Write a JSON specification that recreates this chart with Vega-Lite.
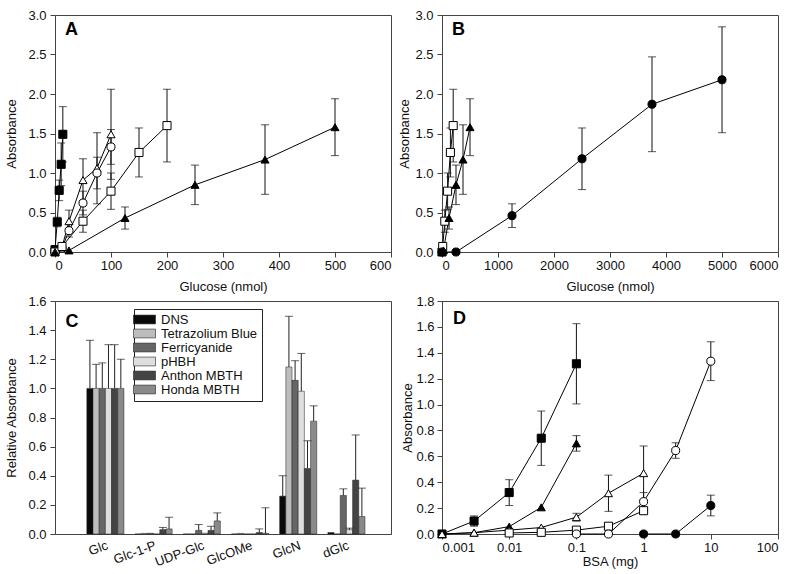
{
  "$schema": "https://vega.github.io/schema/vega-lite/v6.json",
  "padding": {"left": 5, "top": 8, "right": 5, "bottom": 5},
  "background": "white",
  "columns": 2,
  "spacing": {"row": 49, "column": 51},
  "bounds": "flush",
  "config": {
    "font": "Arial",
    "view": {"stroke": "#444", "strokeWidth": 1},
    "axis": {
      "labelFont": "Arial", "titleFont": "Arial",
      "labelFontSize": 13, "titleFontSize": 13, "titleFontWeight": "normal",
      "labelColor": "#111", "titleColor": "#111",
      "domainColor": "#444", "tickColor": "#444", "tickSize": 5,
      "grid": false, "labelPadding": 3
    },
    "legend": {"labelFont": "Arial"},
    "text": {"font": "Arial"}
  },
  "datasets": {
    "A": [
      {"series": "FS", "x": 0, "y": 0.03},
      {"series": "FS", "x": 4, "y": 0.38, "err": 0.06},
      {"series": "FS", "x": 7.5, "y": 0.78, "err": 0.13},
      {"series": "FS", "x": 11, "y": 1.11, "err": 0.27},
      {"series": "FS", "x": 14, "y": 1.49, "err": 0.35},
      {"series": "OT", "x": 0, "y": 0.02},
      {"series": "OT", "x": 12.5, "y": 0.06},
      {"series": "OT", "x": 25, "y": 0.39, "err": 0.14},
      {"series": "OT", "x": 50, "y": 0.91, "err": 0.27},
      {"series": "OT", "x": 75, "y": 1.06, "err": 0.45},
      {"series": "OT", "x": 100, "y": 1.49, "err": 0.57},
      {"series": "OC", "x": 0, "y": 0.01},
      {"series": "OC", "x": 12.5, "y": 0.05},
      {"series": "OC", "x": 25, "y": 0.27, "err": 0.08},
      {"series": "OC", "x": 50, "y": 0.62, "err": 0.15},
      {"series": "OC", "x": 75, "y": 1.0, "err": 0.2},
      {"series": "OC", "x": 100, "y": 1.33, "err": 0.22},
      {"series": "OS", "x": 0, "y": 0.0},
      {"series": "OS", "x": 12.5, "y": 0.07},
      {"series": "OS", "x": 50, "y": 0.39, "err": 0.14},
      {"series": "OS", "x": 100, "y": 0.77, "err": 0.23},
      {"series": "OS", "x": 150, "y": 1.26, "err": 0.31},
      {"series": "OS", "x": 200, "y": 1.6, "err": 0.46},
      {"series": "FT", "x": 0, "y": 0.0},
      {"series": "FT", "x": 25, "y": 0.02},
      {"series": "FT", "x": 125, "y": 0.43, "err": 0.14},
      {"series": "FT", "x": 250, "y": 0.85, "err": 0.25},
      {"series": "FT", "x": 375, "y": 1.17, "err": 0.44},
      {"series": "FT", "x": 500, "y": 1.58, "err": 0.36}
    ],
    "B": [
      {"series": "OS", "x": 0, "y": 0.0},
      {"series": "OS", "x": 12.5, "y": 0.07},
      {"series": "OS", "x": 50, "y": 0.39, "err": 0.14},
      {"series": "OS", "x": 100, "y": 0.77, "err": 0.23},
      {"series": "OS", "x": 150, "y": 1.26, "err": 0.31},
      {"series": "OS", "x": 200, "y": 1.6, "err": 0.46},
      {"series": "FT", "x": 0, "y": 0.0},
      {"series": "FT", "x": 25, "y": 0.02},
      {"series": "FT", "x": 125, "y": 0.43, "err": 0.14},
      {"series": "FT", "x": 250, "y": 0.85, "err": 0.25},
      {"series": "FT", "x": 375, "y": 1.17, "err": 0.44},
      {"series": "FT", "x": 500, "y": 1.58, "err": 0.36},
      {"series": "FC", "x": 0, "y": 0.0},
      {"series": "FC", "x": 250, "y": 0.0},
      {"series": "FC", "x": 1250, "y": 0.46, "err": 0.15},
      {"series": "FC", "x": 2500, "y": 1.18, "err": 0.39},
      {"series": "FC", "x": 3750, "y": 1.87, "err": 0.6},
      {"series": "FC", "x": 5000, "y": 2.18, "err": 0.67}
    ],
    "C": [
      {"sugar": "Glc", "method": "DNS", "v": 1.0, "hi": 1.33},
      {"sugar": "Glc", "method": "Tetrazolium Blue", "v": 1.0, "hi": 1.165},
      {"sugar": "Glc", "method": "Ferricyanide", "v": 1.0, "hi": 1.175},
      {"sugar": "Glc", "method": "pHBH", "v": 1.0, "hi": 1.3},
      {"sugar": "Glc", "method": "Anthon MBTH", "v": 1.0, "hi": 1.3},
      {"sugar": "Glc", "method": "Honda MBTH", "v": 1.0, "hi": 1.2},
      {"sugar": "Glc-1-P", "method": "DNS", "v": 0.0, "hi": null},
      {"sugar": "Glc-1-P", "method": "Tetrazolium Blue", "v": 0.004, "hi": null},
      {"sugar": "Glc-1-P", "method": "Ferricyanide", "v": 0.005, "hi": null},
      {"sugar": "Glc-1-P", "method": "pHBH", "v": 0.0, "hi": null},
      {"sugar": "Glc-1-P", "method": "Anthon MBTH", "v": 0.03, "hi": 0.045},
      {"sugar": "Glc-1-P", "method": "Honda MBTH", "v": 0.035, "hi": 0.115},
      {"sugar": "UDP-Glc", "method": "DNS", "v": 0.0, "hi": null},
      {"sugar": "UDP-Glc", "method": "Tetrazolium Blue", "v": 0.0, "hi": null},
      {"sugar": "UDP-Glc", "method": "Ferricyanide", "v": 0.025, "hi": 0.065},
      {"sugar": "UDP-Glc", "method": "pHBH", "v": 0.005, "hi": null},
      {"sugar": "UDP-Glc", "method": "Anthon MBTH", "v": 0.025, "hi": 0.053},
      {"sugar": "UDP-Glc", "method": "Honda MBTH", "v": 0.09, "hi": 0.145},
      {"sugar": "GlcOMe", "method": "DNS", "v": 0.0, "hi": null},
      {"sugar": "GlcOMe", "method": "Tetrazolium Blue", "v": 0.004, "hi": null},
      {"sugar": "GlcOMe", "method": "Ferricyanide", "v": 0.0, "hi": null},
      {"sugar": "GlcOMe", "method": "pHBH", "v": 0.0, "hi": null},
      {"sugar": "GlcOMe", "method": "Anthon MBTH", "v": 0.01, "hi": 0.035},
      {"sugar": "GlcOMe", "method": "Honda MBTH", "v": 0.005, "hi": 0.18},
      {"sugar": "GlcN", "method": "DNS", "v": 0.26, "hi": 0.4},
      {"sugar": "GlcN", "method": "Tetrazolium Blue", "v": 1.147, "hi": 1.495},
      {"sugar": "GlcN", "method": "Ferricyanide", "v": 1.055, "hi": 1.19},
      {"sugar": "GlcN", "method": "pHBH", "v": 0.98, "hi": 1.24},
      {"sugar": "GlcN", "method": "Anthon MBTH", "v": 0.45, "hi": 0.64},
      {"sugar": "GlcN", "method": "Honda MBTH", "v": 0.775, "hi": 0.88},
      {"sugar": "dGlc", "method": "DNS", "v": 0.01, "hi": null},
      {"sugar": "dGlc", "method": "Tetrazolium Blue", "v": 0.0, "hi": null},
      {"sugar": "dGlc", "method": "Ferricyanide", "v": 0.265, "hi": 0.31},
      {"sugar": "dGlc", "method": "pHBH", "v": 0.03, "hi": 0.04},
      {"sugar": "dGlc", "method": "Anthon MBTH", "v": 0.37, "hi": 0.68},
      {"sugar": "dGlc", "method": "Honda MBTH", "v": 0.12, "hi": 0.315}
    ],
    "D": [
      {"series": "FS", "x": 0.001, "y": 0.0},
      {"series": "FS", "x": 0.003, "y": 0.1, "err": 0.04},
      {"series": "FS", "x": 0.01, "y": 0.32, "err": 0.1},
      {"series": "FS", "x": 0.03, "y": 0.74, "err": 0.21},
      {"series": "FS", "x": 0.1, "y": 1.315, "err": 0.31},
      {"series": "FT", "x": 0.001, "y": 0.0},
      {"series": "FT", "x": 0.003, "y": 0.01},
      {"series": "FT", "x": 0.01, "y": 0.057},
      {"series": "FT", "x": 0.03, "y": 0.206},
      {"series": "FT", "x": 0.1, "y": 0.7, "err": 0.06},
      {"series": "OT", "x": 0.001, "y": 0.0},
      {"series": "OT", "x": 0.003, "y": 0.01},
      {"series": "OT", "x": 0.01, "y": 0.03},
      {"series": "OT", "x": 0.03, "y": 0.05},
      {"series": "OT", "x": 0.1, "y": 0.13, "err": 0.03},
      {"series": "OT", "x": 0.3, "y": 0.315, "err": 0.14},
      {"series": "OT", "x": 1, "y": 0.47, "err": 0.21},
      {"series": "OS", "x": 0.01, "y": 0.008},
      {"series": "OS", "x": 0.03, "y": 0.013},
      {"series": "OS", "x": 0.1, "y": 0.03},
      {"series": "OS", "x": 0.3, "y": 0.06},
      {"series": "OS", "x": 1, "y": 0.18, "err": 0.02},
      {"series": "OC", "x": 0.1, "y": 0.0},
      {"series": "OC", "x": 0.3, "y": 0.0},
      {"series": "OC", "x": 1, "y": 0.25, "err": 0.07},
      {"series": "OC", "x": 3, "y": 0.645, "err": 0.06},
      {"series": "OC", "x": 10, "y": 1.335, "err": 0.15},
      {"series": "FC", "x": 1, "y": 0.0},
      {"series": "FC", "x": 3, "y": 0.0},
      {"series": "FC", "x": 10, "y": 0.22, "err": 0.08}
    ]
  },
  "concat": [
    {
      "width": 336, "height": 237,
      "data": {"name": "A"},
      "encoding": {
        "x": {"field": "x", "type": "quantitative", "title": "Glucose (nmol)",
              "scale": {"domain": [0, 600], "nice": false},
              "axis": {"values": [0, 100, 200, 300, 400, 500, 600], "format": "d", "labelPadding": 2, "titlePadding": 8}},
        "y": {"field": "y", "type": "quantitative", "title": "Absorbance",
              "scale": {"domain": [0, 3], "nice": false},
              "axis": {"values": [0, 0.5, 1, 1.5, 2, 2.5, 3], "format": ".1f", "labelPadding": 4, "titlePadding": 9}}
      },
      "layer": [
        {"mark": {"type": "line", "color": "black", "strokeWidth": 1}, "encoding": {"detail": {"field": "series"}}},
        {"transform": [{"filter": "datum.err > 0"}],
         "mark": {"type": "errorbar", "ticks": {"size": 8}, "color": "#111", "thickness": 1},
         "encoding": {"yError": {"field": "err"}}},
        {"mark": {"type": "point", "filled": true, "stroke": "black", "strokeWidth": 1, "size": 65, "opacity": 1},
         "encoding": {
           "shape": {"field": "series", "scale": {"domain": ["FS", "OT", "OC", "OS", "FT", "FC"], "range": ["square", "triangle-up", "circle", "square", "triangle-up", "circle"]}, "legend": null},
           "fill": {"field": "series", "scale": {"domain": ["FS", "OT", "OC", "OS", "FT", "FC"], "range": ["black", "white", "white", "white", "black", "black"]}, "legend": null}
         }},
        {"data": {"values": [{"t": "A", "x": 18, "y": 2.81}]},
         "mark": {"type": "text", "fontSize": 18, "fontWeight": "bold", "align": "left", "baseline": "middle", "color": "black"},
         "encoding": {"text": {"field": "t"}}}
      ]
    },
    {
      "width": 336, "height": 237,
      "data": {"name": "B"},
      "encoding": {
        "x": {"field": "x", "type": "quantitative", "title": "Glucose (nmol)",
              "scale": {"domain": [0, 6000], "nice": false},
              "axis": {"values": [0, 1000, 2000, 3000, 4000, 5000, 6000], "format": "d", "labelPadding": 2, "titlePadding": 8}},
        "y": {"field": "y", "type": "quantitative", "title": "Absorbance",
              "scale": {"domain": [0, 3], "nice": false},
              "axis": {"values": [0, 0.5, 1, 1.5, 2, 2.5, 3], "format": ".1f", "labelPadding": 4, "titlePadding": 3}}
      },
      "layer": [
        {"mark": {"type": "line", "color": "black", "strokeWidth": 1}, "encoding": {"detail": {"field": "series"}}},
        {"transform": [{"filter": "datum.err > 0"}],
         "mark": {"type": "errorbar", "ticks": {"size": 8}, "color": "#111", "thickness": 1},
         "encoding": {"yError": {"field": "err"}}},
        {"mark": {"type": "point", "filled": true, "stroke": "black", "strokeWidth": 1, "size": 65, "opacity": 1},
         "encoding": {
           "shape": {"field": "series", "scale": {"domain": ["FS", "OT", "OC", "OS", "FT", "FC"], "range": ["square", "triangle-up", "circle", "square", "triangle-up", "circle"]}, "legend": null},
           "fill": {"field": "series", "scale": {"domain": ["FS", "OT", "OC", "OS", "FT", "FC"], "range": ["black", "white", "white", "white", "black", "black"]}, "legend": null}
         }},
        {"data": {"values": [{"t": "B", "x": 180, "y": 2.81}]},
         "mark": {"type": "text", "fontSize": 18, "fontWeight": "bold", "align": "left", "baseline": "middle", "color": "black"},
         "encoding": {"text": {"field": "t"}}}
      ]
    },
    {
      "width": 336, "height": 233,
      "data": {"name": "C"},
      "encoding": {
        "x": {"field": "sugar", "type": "nominal", "title": null,
              "sort": ["Glc", "Glc-1-P", "UDP-Glc", "GlcOMe", "GlcN", "dGlc"],
              "scale": {"paddingInner": 0.23, "paddingOuter": 0.6, "align": 0.55},
              "axis": {"labelAngle": -20, "labelAlign": "right", "labelBaseline": "top", "ticks": false, "labelPadding": 5}},
        "y": {"field": "v", "type": "quantitative", "title": "Relative Absorbance",
              "scale": {"domain": [0, 1.6], "nice": false},
              "axis": {"values": [0, 0.2, 0.4, 0.6, 0.8, 1.0, 1.2, 1.4, 1.6], "format": ".1f", "labelPadding": 4, "titlePadding": 9}}
      },
      "layer": [
        {"mark": {"type": "bar", "stroke": "#222", "strokeWidth": 0.5},
         "encoding": {
           "xOffset": {"field": "method", "type": "nominal", "sort": ["DNS", "Tetrazolium Blue", "Ferricyanide", "pHBH", "Anthon MBTH", "Honda MBTH"], "scale": {"paddingInner": 0, "paddingOuter": 0}},
           "color": {"field": "method", "type": "nominal",
                     "scale": {"domain": ["DNS", "Tetrazolium Blue", "Ferricyanide", "pHBH", "Anthon MBTH", "Honda MBTH"],
                               "range": ["#0a0a0a", "#bdbdbd", "#666666", "#dedede", "#444444", "#8a8a8a"]},
                     "legend": {"title": null, "orient": "none", "legendX": 79, "legendY": 294,
                                "symbolType": "M-2,-0.8H2V0.8H-2Z", "symbolSize": 121,
                                "symbolStrokeColor": "#222", "symbolStrokeWidth": 0.6,
                                "labelFont": "Arial", "labelFontSize": 13, "labelColor": "#111", "labelOffset": 10,
                                "rowPadding": 0, "padding": 4, "strokeColor": "#222", "fillColor": "white"}}
         }},
        {"transform": [{"filter": "datum.hi != null"}],
         "mark": {"type": "rule", "color": "#222", "strokeWidth": 1},
         "encoding": {
           "xOffset": {"field": "method", "type": "nominal", "sort": ["DNS", "Tetrazolium Blue", "Ferricyanide", "pHBH", "Anthon MBTH", "Honda MBTH"], "scale": {"paddingInner": 0, "paddingOuter": 0}},
           "y2": {"field": "hi"}
         }},
        {"transform": [{"filter": "datum.hi != null"}],
         "mark": {"type": "tick", "color": "#222", "thickness": 1, "size": 8},
         "encoding": {
           "xOffset": {"field": "method", "type": "nominal", "sort": ["DNS", "Tetrazolium Blue", "Ferricyanide", "pHBH", "Anthon MBTH", "Honda MBTH"], "scale": {"paddingInner": 0, "paddingOuter": 0}},
           "y": {"field": "hi", "type": "quantitative", "title": "Relative Absorbance"}
         }},
        {"data": {"values": [{"t": "C", "sugar": "Glc", "v": 1.455}]},
         "mark": {"type": "text", "fontSize": 18, "fontWeight": "bold", "align": "left", "baseline": "middle", "color": "black", "dx": -40},
         "encoding": {"text": {"field": "t"}}}
      ]
    },
    {
      "width": 336, "height": 233,
      "data": {"name": "D"},
      "encoding": {
        "x": {"field": "x", "type": "quantitative", "title": "BSA (mg)",
              "scale": {"type": "log", "domain": [0.001, 100], "nice": false},
              "axis": {"values": [0.001, 0.01, 0.1, 1, 10, 100], "format": "~g", "labelPadding": 2, "titlePadding": 1}},
        "y": {"field": "y", "type": "quantitative", "title": "Absorbance",
              "scale": {"domain": [0, 1.8], "nice": false},
              "axis": {"values": [0, 0.2, 0.4, 0.6, 0.8, 1.0, 1.2, 1.4, 1.6, 1.8], "format": ".1f", "labelPadding": 3, "titlePadding": 1}}
      },
      "layer": [
        {"mark": {"type": "line", "color": "black", "strokeWidth": 1}, "encoding": {"detail": {"field": "series"}}},
        {"transform": [{"filter": "datum.err > 0"}],
         "mark": {"type": "errorbar", "ticks": {"size": 8}, "color": "#111", "thickness": 1},
         "encoding": {"yError": {"field": "err"}}},
        {"mark": {"type": "point", "filled": true, "stroke": "black", "strokeWidth": 1, "size": 65, "opacity": 1},
         "encoding": {
           "shape": {"field": "series", "scale": {"domain": ["FS", "OT", "OC", "OS", "FT", "FC"], "range": ["square", "triangle-up", "circle", "square", "triangle-up", "circle"]}, "legend": null},
           "fill": {"field": "series", "scale": {"domain": ["FS", "OT", "OC", "OS", "FT", "FC"], "range": ["black", "white", "white", "white", "black", "black"]}, "legend": null}
         }},
        {"data": {"values": [{"t": "D", "x": 0.00146, "y": 1.66}]},
         "mark": {"type": "text", "fontSize": 18, "fontWeight": "bold", "align": "left", "baseline": "middle", "color": "black"},
         "encoding": {"text": {"field": "t"}}}
      ]
    }
  ]
}
